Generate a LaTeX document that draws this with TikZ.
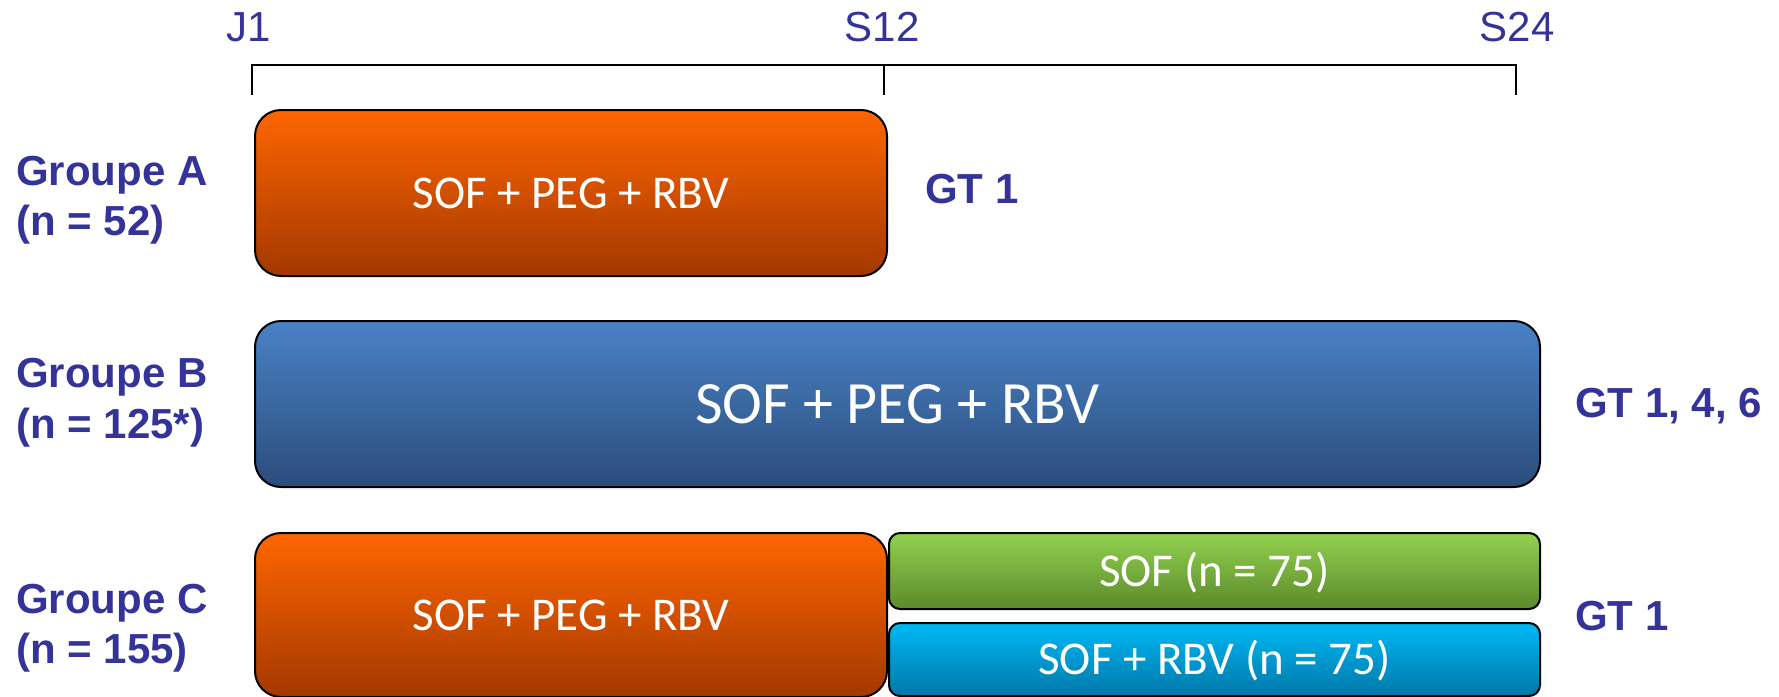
\documentclass[tikz,border=0pt]{standalone}
\usepackage{fontspec}
\setmainfont{Liberation Sans}
\newfontfamily\boxfont{Carlito}
\definecolor{lblue}{RGB}{51,51,153}
\definecolor{orTop}{RGB}{255,102,0}
\definecolor{orBot}{RGB}{163,56,0}
\definecolor{blTop}{RGB}{74,130,198}
\definecolor{blBot}{RGB}{43,77,123}
\definecolor{grTop}{RGB}{146,209,79}
\definecolor{grBot}{RGB}{91,138,43}
\definecolor{cyTop}{RGB}{0,185,246}
\definecolor{cyBot}{RGB}{0,119,168}
\begin{document}
\begin{tikzpicture}[x=1pt,y=-1pt,
  grp/.style={anchor=base west, text=lblue, inner sep=0pt,
    font=\fontsize{42}{50}\bfseries\selectfont},
  toplbl/.style={anchor=base, text=lblue, inner sep=0pt,
    font=\fontsize{42}{50}\selectfont},
  bx/.style={draw=black, line width=2pt, rounded corners=26pt, inner sep=0pt,
    text=white, font=\boxfont\fontsize{47}{56}\selectfont,
    text height=30pt, text depth=0pt},
  smallbx/.style={bx, rounded corners=11pt},
  orangebx/.style={top color=orTop, bottom color=orBot},
  bluebx/.style={top color=blTop, bottom color=blBot},
  greenbx/.style={top color=grTop, bottom color=grBot},
  cyanbx/.style={top color=cyTop, bottom color=cyBot},
  bracket/.style={draw=black, line width=2pt}
]
\useasboundingbox (0,0) rectangle (1779,696);

% time axis
\coordinate (t1) at (252,65);
\coordinate (t2) at (884,65);
\coordinate (t3) at (1516,65);
\coordinate (t1b) at (252,95);
\coordinate (t2b) at (884,95);
\coordinate (t3b) at (1516,95);
\draw[bracket] (t1b) -- (t1) -- (t3) -- (t3b);
\draw[bracket, line width=1.5pt] (t2) -- (t2b);
\node[toplbl] (lJ1) at (249,41) {J1};
\node[toplbl] (lS12) at (882,41) {S12};
\node[toplbl] (lS24) at (1517,41) {S24};

% Groupe A
\node[grp] (gA1) at (16,185) {Groupe A};
\node[grp] (gA2) at (16,235) {(n = 52)};
\node[bx, orangebx, minimum width=632pt, minimum height=166pt] (boxA) at (571,193) {SOF + PEG + RBV};
\node[grp] (gtA) at (925,203) {GT 1};

% Groupe B
\node[grp] (gB1) at (16,387) {Groupe B};
\node[grp] (gB2) at (16,438) {(n = 125*)};
\node[bx, bluebx, minimum width=1285pt, minimum height=166pt,
  font=\boxfont\fontsize{60}{70}\selectfont, text height=39pt] (boxB) at (897.5,404) {SOF + PEG + RBV};
\node[grp] (gtB) at (1575,417) {GT 1, 4, 6};

% Groupe C
\node[grp] (gC1) at (16,613) {Groupe C};
\node[grp] (gC2) at (16,663) {(n = 155)};
\node[bx, orangebx, minimum width=632pt, minimum height=164pt] (boxC) at (571,615) {SOF + PEG + RBV};
\node[smallbx, greenbx, minimum width=651pt, minimum height=76pt] (boxC1) at (1214.5,571) {SOF (n = 75)};
\node[smallbx, cyanbx, minimum width=651pt, minimum height=73pt] (boxC2) at (1214.5,659.5) {SOF + RBV (n = 75)};
\node[grp] (gtC) at (1575,630) {GT 1};
\end{tikzpicture}
\end{document}
